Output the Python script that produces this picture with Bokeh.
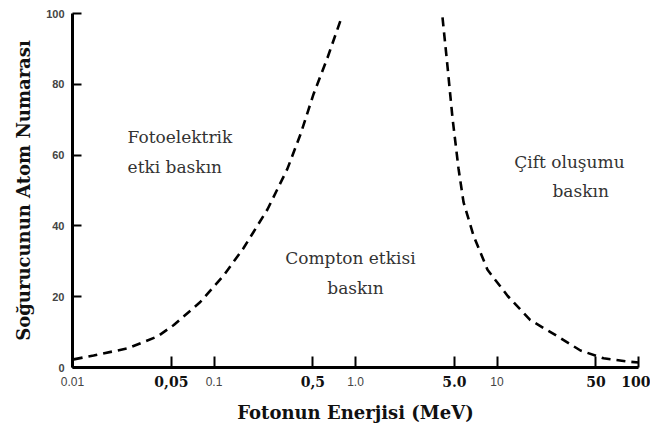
from bokeh.plotting import figure
from bokeh.models import FixedTicker, ColumnDataSource, LogAxis, Span
from bokeh.embed import file_html
from bokeh.resources import INLINE
from bokeh.core.properties import value

# --- data ---
photo_energy = [0.0102, 0.0141, 0.0245, 0.040, 0.052, 0.080, 0.117, 0.161, 0.239, 0.330, 0.408, 0.505, 0.634, 0.783]
photo_z = [2.3, 3.4, 5.4, 8.8, 12.0, 18.5, 26.0, 33.6, 44.7, 56.1, 65.8, 77.2, 87.5, 98.0]

pair_energy = [4.12, 4.47, 4.85, 5.35, 5.80, 6.82, 8.57, 11.9, 17.2, 26.8, 38.9, 56.6, 83.6, 100.0]
pair_z = [98.9, 85.0, 70.4, 56.1, 46.7, 37.3, 27.6, 20.2, 13.4, 8.8, 4.8, 2.6, 1.7, 1.4]

x_ticks = [0.01, 0.05, 0.1, 0.5, 1, 5, 10, 50, 100]
x_bold_labels = {0.01: "", 0.05: "0,05", 0.1: "", 0.5: "0,5", 1: "", 5: "5.0", 10: "", 50: "50", 100: "100"}
x_small_ticks = [0.01, 0.1, 1, 10]
x_small_labels = {0.01: "0.01", 0.1: "0.1", 1: "1.0", 10: "10"}
y_ticks = [0, 20, 40, 60, 80, 100]

region_x = [0.0245, 0.0245, 0.92, 1.0, 32.5, 39.0]
region_y = [65.2, 56.7, 31.0, 22.5, 58.0, 50.0]
region_text = ["Fotoelektrik", "etki baskın", "Compton etkisi", "baskın", "Çift oluşumu", "baskın"]
region_align = ["left", "left", "center", "center", "center", "center"]

p = figure(width=650, height=425, x_axis_type="log", x_range=(0.01, 100), y_range=(0, 100),
           output_backend="svg", toolbar_location=None,
           min_border_left=72, min_border_right=12, min_border_top=13, min_border_bottom=10)
p.background_fill_color = None
p.border_fill_color = "white"
p.outline_line_color = None
p.grid.visible = False

p.line(photo_energy, photo_z, line_color="black", line_width=2.6, line_dash="9 6")
p.line(pair_energy, pair_z, line_color="black", line_width=2.6, line_dash="9 6")

serif = "'DejaVu Serif', serif"
sans = "'Liberation Sans', Arial, sans-serif"

# main axis: rule, ticks and bold tick labels
xa = p.xaxis[0]
xa.ticker = FixedTicker(ticks=x_ticks)
xa.major_label_overrides = x_bold_labels
xa.minor_tick_line_color = None
xa.major_tick_in = 11
xa.major_tick_out = 0
xa.major_tick_line_width = 2
xa.axis_line_width = 3
xa.axis_line_color = "black"
xa.major_tick_line_color = "black"
xa.major_label_text_font = serif
xa.major_label_text_font_style = "bold"
xa.major_label_text_font_size = "14px"
xa.major_label_text_color = "#111111"
xa.major_label_standoff = 8

# second axis: small tick labels pulled up into the same row, plus the title
xb = LogAxis(ticker=FixedTicker(ticks=x_small_ticks), major_label_overrides=x_small_labels)
xb.axis_line_color = None
xb.major_tick_line_color = None
xb.minor_tick_line_color = None
xb.major_tick_in = 0
xb.major_tick_out = 0
xb.major_label_standoff = -13
xb.major_label_text_font = sans
xb.major_label_text_font_size = "12px"
xb.major_label_text_color = "#444444"
xb.axis_label = "Fotonun Enerjisi (MeV)"
xb.axis_label_text_font = serif
xb.axis_label_text_font_style = "bold"
xb.axis_label_text_font_size = "18px"
xb.axis_label_text_color = "#111111"
xb.axis_label_standoff = 13
p.add_layout(xb, "below")

# baseline of the x axis at Z = 0
p.add_layout(Span(location=0, dimension="width", line_color="black", line_width=3))

ya = p.yaxis[0]
ya.ticker = FixedTicker(ticks=y_ticks)
ya.minor_tick_line_color = None
ya.major_tick_in = 9
ya.major_tick_out = 0
ya.major_tick_line_width = 2
ya.axis_line_width = 3
ya.axis_line_color = "black"
ya.major_tick_line_color = "black"
ya.major_label_text_font = sans
ya.major_label_text_font_style = "bold"
ya.major_label_text_font_size = "11px"
ya.major_label_text_color = "#444444"
ya.major_label_standoff = 8
ya.axis_label = "Soğurucunun Atom Numarası"
ya.axis_label_text_font = serif
ya.axis_label_text_font_style = "bold"
ya.axis_label_text_font_size = "18px"
ya.axis_label_text_color = "#111111"
ya.axis_label_standoff = 9

src = ColumnDataSource(dict(x=region_x, y=region_y, t=region_text, a=region_align))
p.text(x="x", y="y", text="t", text_align="a", text_baseline="middle", source=src,
       text_font=value(serif), text_font_size="17px", text_color="#333333")

open("out.html", "w").write(file_html(p, INLINE))
